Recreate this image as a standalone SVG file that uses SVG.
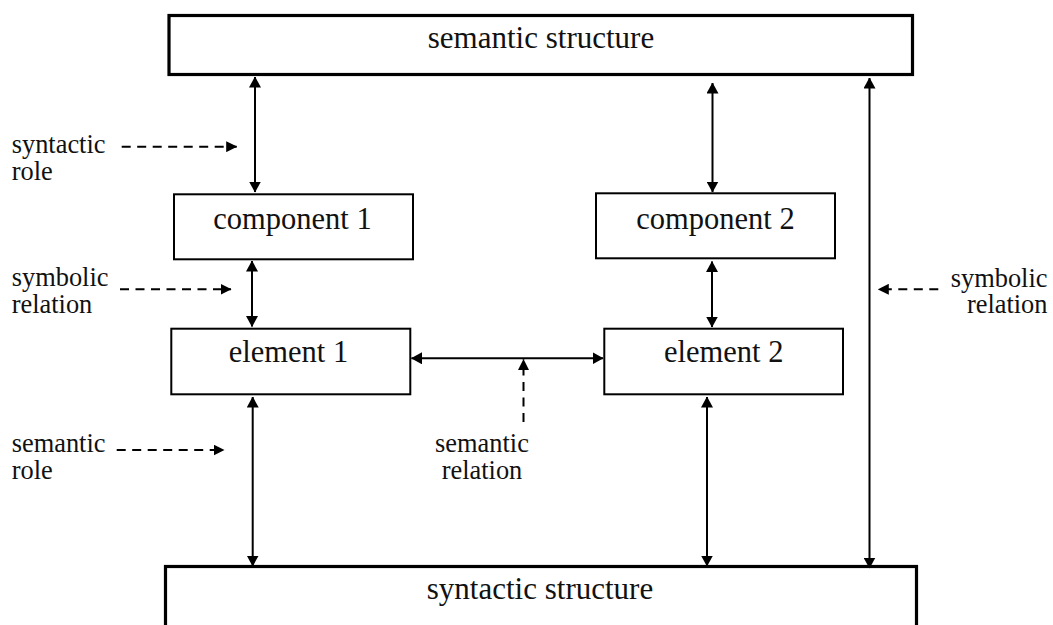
<svg xmlns="http://www.w3.org/2000/svg" width="1053" height="625" viewBox="0 0 1053 625">
<style>
.box{fill:#fff;stroke:#000;stroke-width:2}
.big{fill:#fff;stroke:#000;stroke-width:3.2}
.t{font-family:"Liberation Serif","Times New Roman",serif;fill:#111}
.bt{font-size:30.5px;text-anchor:middle}
.st{font-size:31px;text-anchor:middle}
.lb{font-size:26.4px}
.c{stroke:#000;stroke-width:2;fill:none}
.d{stroke:#000;stroke-width:2;fill:none;stroke-dasharray:9 6.5}
</style>
<defs>
<marker id="ah" viewBox="0 0 11 12" refX="10.5" refY="6" markerWidth="11" markerHeight="12" markerUnits="userSpaceOnUse" orient="auto-start-reverse">
<path d="M0,0 L11,6 L0,12 z" fill="#000"/>
</marker>
<marker id="dh" viewBox="0 0 11 11" refX="10.5" refY="5.5" markerWidth="11" markerHeight="11" markerUnits="userSpaceOnUse" orient="auto">
<path d="M0,0 L11,5.5 L0,11 z" fill="#000"/>
</marker>
</defs>
<rect width="1053" height="625" fill="#fff"/>

<g id="semantic-structure">
<rect class="big" x="169" y="15.5" width="743.5" height="59"/>
<text class="t st" x="541" y="47.5">semantic structure</text>
</g>
<g id="component-1">
<rect class="box" x="174" y="194.3" width="239" height="65"/>
<text class="t bt" x="292.5" y="228.5">component 1</text>
</g>
<g id="component-2">
<rect class="box" x="596" y="193.3" width="239" height="65"/>
<text class="t bt" x="715.5" y="228.5">component 2</text>
</g>
<g id="element-1">
<rect class="box" x="171.3" y="328.7" width="239" height="65.6"/>
<text class="t bt" x="288.5" y="362">element 1</text>
</g>
<g id="element-2">
<rect class="box" x="604.3" y="328.7" width="238.7" height="65.6"/>
<text class="t bt" x="723.7" y="362">element 2</text>
</g>
<g id="syntactic-structure">
<rect class="big" x="165.5" y="566.5" width="751" height="80"/>
<text class="t st" x="540" y="598.5">syntactic structure</text>
</g>

<g id="labels">
<text class="t lb" x="11.7" y="152.7">syntactic</text>
<text class="t lb" x="11.7" y="180">role</text>
<text class="t lb" x="11.7" y="286">symbolic</text>
<text class="t lb" x="11.7" y="313">relation</text>
<text class="t lb" x="11.7" y="451.7">semantic</text>
<text class="t lb" x="11.7" y="478.5">role</text>
<text class="t lb" x="482" y="451.7" text-anchor="middle">semantic</text>
<text class="t lb" x="482" y="478.5" text-anchor="middle">relation</text>
<text class="t lb" x="1047.5" y="286.5" text-anchor="end">symbolic</text>
<text class="t lb" x="1047.5" y="313" text-anchor="end">relation</text>
</g>

<g id="connectors">
<line class="c" x1="255" y1="77" x2="255" y2="192" marker-start="url(#ah)" marker-end="url(#ah)"/>
<line class="c" x1="712.5" y1="83" x2="712.5" y2="192" marker-start="url(#ah)" marker-end="url(#ah)"/>
<line class="c" x1="869.5" y1="78" x2="869.5" y2="568" marker-start="url(#ah)" marker-end="url(#ah)"/>
<line class="c" x1="252" y1="261" x2="252" y2="326.5" marker-start="url(#ah)" marker-end="url(#ah)"/>
<line class="c" x1="712" y1="261.5" x2="712" y2="327" marker-start="url(#ah)" marker-end="url(#ah)"/>
<line class="c" x1="252.7" y1="397" x2="252.7" y2="566" marker-start="url(#ah)" marker-end="url(#ah)"/>
<line class="c" x1="707" y1="397" x2="707" y2="566" marker-start="url(#ah)" marker-end="url(#ah)"/>
<line class="c" x1="411.5" y1="358.3" x2="603" y2="358.3" marker-start="url(#ah)" marker-end="url(#ah)"/>
<line class="d" x1="523.5" y1="422" x2="523.5" y2="359.5" marker-end="url(#dh)"/>
<line class="d" x1="121.7" y1="146.7" x2="236.7" y2="146.7" marker-end="url(#dh)"/>
<line class="d" x1="120" y1="289.3" x2="231" y2="289.3" marker-end="url(#dh)"/>
<line class="d" x1="116.7" y1="450" x2="224" y2="450" marker-end="url(#dh)"/>
<line class="d" x1="938.3" y1="289.3" x2="878.3" y2="289.3" marker-end="url(#dh)"/>
</g>
</svg>
